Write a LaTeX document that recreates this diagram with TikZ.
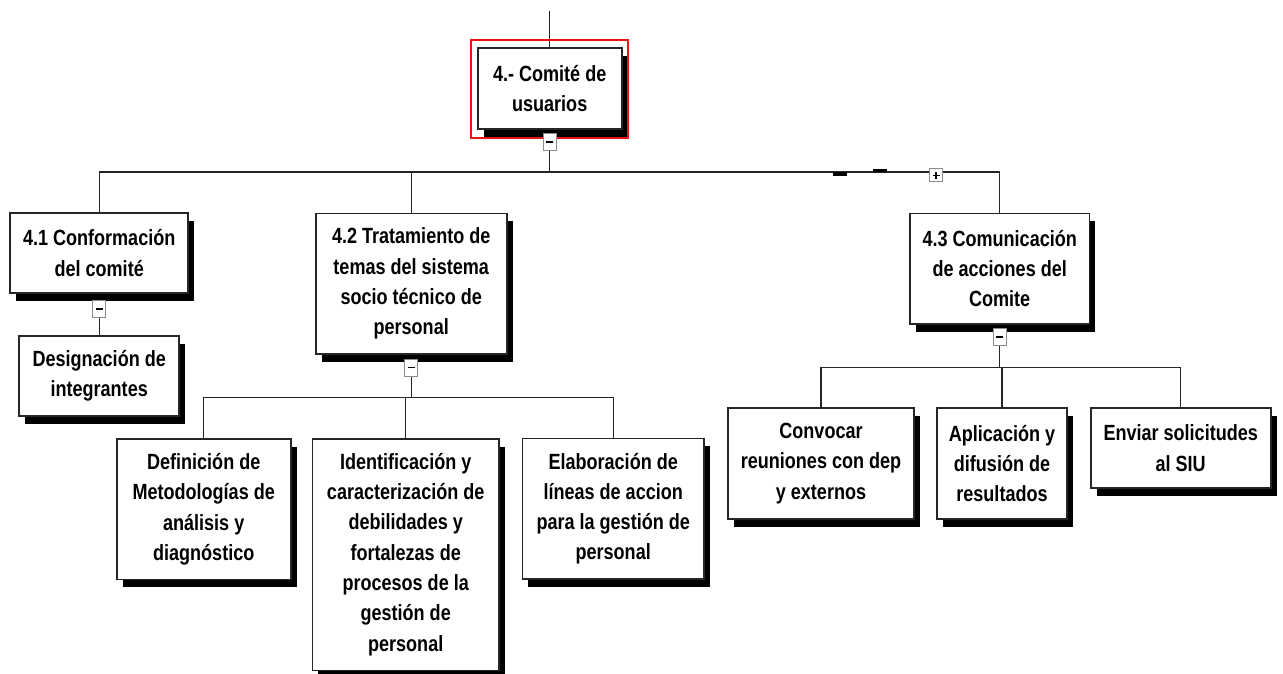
\documentclass[tikz,border=0pt]{standalone}
\usepackage{fontspec}
\setmainfont{Liberation Sans}[FakeStretch=0.82]
\usetikzlibrary{backgrounds}
\definecolor{selred}{RGB}{235,20,20}
\tikzset{
  box/.style={draw=black!85, line width=1.7pt, fill=white, align=center,
    font=\fontsize{22}{30.3}\selectfont\bfseries, inner sep=0pt,
    preaction={draw=none, fill=black, transform canvas={xshift=6pt, yshift=-8pt}}},
  wire/.style={line width=1.4pt, draw=black!85},
  toggle/.style={draw=black!45, line width=1pt, fill=white, minimum width=13pt,
    minimum height=17pt, inner sep=0pt},
  sign/.style={line width=1.6pt, draw=black},
  selbox/.style={draw=selred, line width=1.6pt},
  blip/.style={fill=black, draw=none}
}
\begin{document}
\begin{tikzpicture}[x=1pt, y=-1pt]
\useasboundingbox (0,0) rectangle (1283,673);
% nodes
\node[box, minimum width=144pt, minimum height=81pt] (top) at (549.7,88.7) {4.- Comité de\\usuarios};
\node[box, minimum width=178pt, minimum height=79.4pt] (n41) at (99.2,253) {4.1 Conformación\\del comité};
\node[box, minimum width=160pt, minimum height=80pt] (des) at (99.2,376) {Designación de\\integrantes};
\node[box, minimum width=191pt, minimum height=140.7pt] (n42) at (411.2,283.7) {4.2 Tratamiento de\\temas del sistema\\socio técnico de\\personal};
\node[box, minimum width=174pt, minimum height=140.3pt] (def) at (203.7,509.2) {Definición de\\Metodologías de\\análisis y\\diagnóstico};
\node[box, minimum width=186.7pt, minimum height=231.7pt] (ide) at (405.7,554.5) {Identificación y\\caracterización de\\debilidades y\\fortalezas de\\procesos de la\\gestión de\\personal};
\node[box, minimum width=181.7pt, minimum height=140.7pt] (ela) at (613.2,508.7) {Elaboración de\\líneas de accion\\para la gestión de\\personal};
\node[box, minimum width=179.3pt, minimum height=110.7pt] (n43) at (999.7,268.7) {4.3 Comunicación\\de acciones del\\Comite};
\node[box, minimum width=186.3pt, minimum height=110.4pt] (con) at (821,463.5) {Convocar\\reuniones con dep\\y externos};
\node[box, minimum width=129.4pt, minimum height=110.4pt] (apl) at (1002,463.5) {Aplicación y\\difusión de\\resultados};
\node[box, minimum width=180pt, minimum height=79.4pt] (env) at (1180.7,448) {Enviar solicitudes\\al SIU};
% connectors
\coordinate (entry) at (549.7,11);
\coordinate (b0) at (549.7,172);
\coordinate (b2) at (411.2,397.3);
\coordinate (b3) at (999.7,367.3);
\begin{scope}[on background layer]
\draw[wire] (top.north) -- (entry);
\draw[wire] (top.south) -- (b0);
\draw[wire] (n41.north) |- (b0) -| (n43.north);
\draw[wire] (n42.north) -- (n42.north |- b0);
\draw[wire] (n41.south) -- (des.north);
\draw[wire] (n42.south) -- (b2);
\draw[wire] (def.north) |- (b2) -| (ela.north);
\draw[wire] (ide.north) -- (ide.north |- b2);
\draw[wire] (n43.south) -- (b3);
\draw[wire] (con.north) |- (b3) -| (env.north);
\draw[wire] (apl.north) -- (apl.north |- b3);
\end{scope}
% selection frame
\draw[selbox] (471,40) rectangle (628,138);
% toggles
\node[toggle] (t0) at (549.7,142) {};
\draw[sign] ([xshift=-3.5pt]t0.center) -- ([xshift=3.5pt]t0.center);
\node[toggle] (t1) at (99.3,309) {};
\draw[sign] ([xshift=-3.5pt]t1.center) -- ([xshift=3.5pt]t1.center);
\node[toggle] (t2) at (411,367.5) {};
\draw[sign] ([xshift=-3.5pt]t2.center) -- ([xshift=3.5pt]t2.center);
\node[toggle] (t3) at (999.8,337) {};
\draw[sign] ([xshift=-3.5pt]t3.center) -- ([xshift=3.5pt]t3.center);
\node[toggle, minimum width=13.7pt, minimum height=12.7pt] (tp) at (936,175.3) {};
\draw[sign] ([xshift=-3.5pt]tp.center) -- ([xshift=3.5pt]tp.center);
\draw[sign] ([yshift=-3.5pt]tp.center) -- ([yshift=3.5pt]tp.center);
% small marks on the bus
\fill[blip] (833,172.3) rectangle (847,175.7);
\fill[blip] (873,169.3) rectangle (887,171.7);
\end{tikzpicture}
\end{document}
